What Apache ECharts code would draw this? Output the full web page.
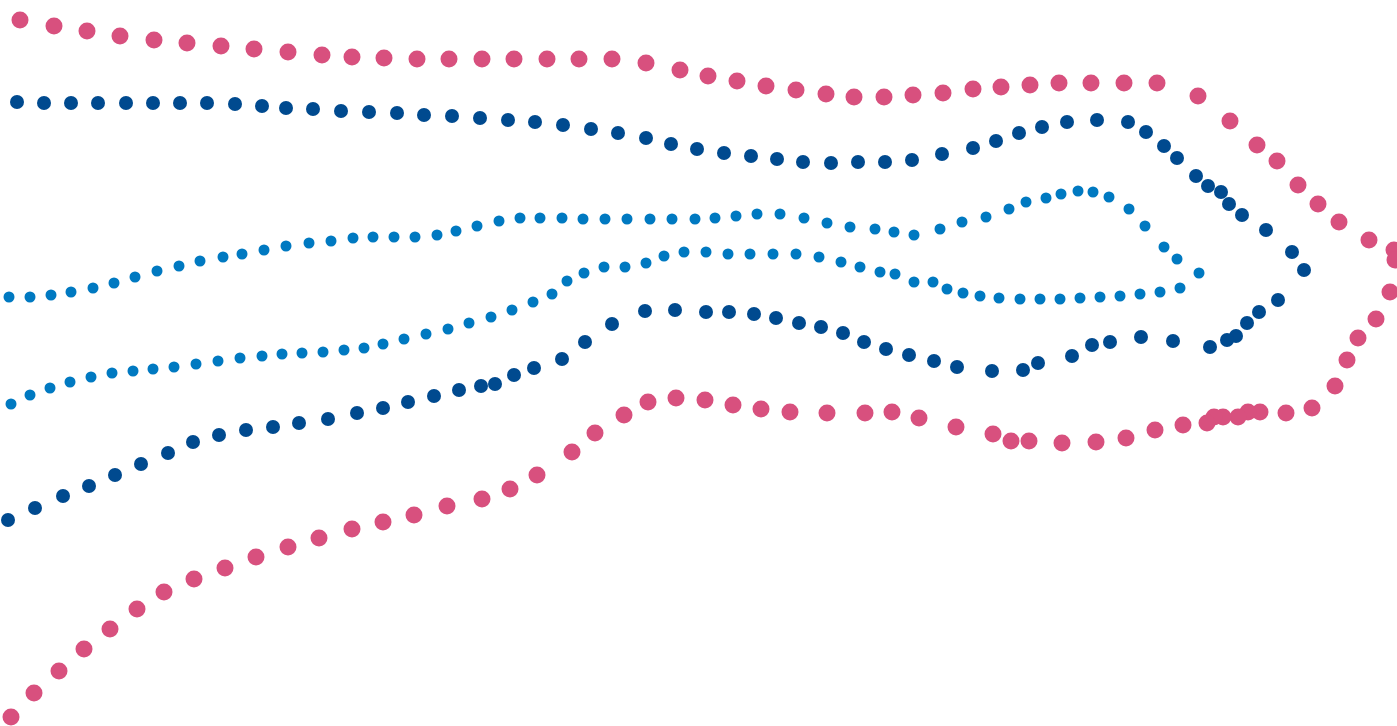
<!DOCTYPE html>
<html>
<head>
<meta charset="utf-8">
<script src="https://cdn.jsdelivr.net/npm/echarts@6/dist/echarts.min.js"></script>
<style>html,body{margin:0;padding:0;background:#fff;}#chart{width:1397px;height:726px;}</style>
</head>
<body>
<div id="chart"></div>
<script>
const pinkX = [20,54,87,120,154,187,221,254,288,322,352,384,417,449,482,514,547,579,612,646,680,708,737,766,796,826,854,884,913,943,973,1001,1030,1059,1091,1124,1157,1198,1230,1257,1277,1298,1318,1339,1369,1394,1395,1390,1376,1358,1347,1335,1312,1286,1260,1248,1238,1223,1214,1207,1183,1155,1126,1096,1062,1029,1011,993,956,919,892,865,827,790,761,733,705,676,648,624,595,572,537,510,482,447,414,383,352,319,288,256,225,194,164,137,110,84,59,34,11];
const pinkY = [20,26,31,36,40,43,46,49,52,55,57,58,59,59,59,59,59,59,59,63,70,76,81,86,90,94,97,97,95,93,89,87,85,83,83,83,83,96,121,145,161,185,204,222,240,250,260,292,319,338,360,386,408,413,412,412,417,417,417,423,425,430,438,442,443,441,441,434,427,418,412,413,413,412,409,405,400,398,402,415,433,452,475,489,499,506,515,522,529,538,547,557,568,579,592,609,629,649,671,693,717];

const navyX = [17,44,71,98,126,153,180,207,235,262,286,313,341,369,397,424,452,480,508,535,563,591,618,646,671,697,724,751,777,803,831,858,885,912,942,973,996,1019,1042,1067,1097,1128,1146,1164,1177,1196,1208,1221,1229,1242,1266,1292,1304,1278,1259,1247,1236,1227,1210,1173,1141,1110,1092,1072,1038,1023,992,957,934,909,886,864,843,821,799,776,754,729,706,675,645,612,585,562,534,514,495,481,459,434,408,383,357,328,299,273,246,219,193,168,141,115,89,63,35,8];
const navyY = [102,103,103,103,103,103,103,103,104,106,108,109,111,112,113,115,116,118,120,122,125,129,133,138,144,149,153,156,159,162,163,162,162,160,154,148,141,133,127,122,120,122,132,146,158,176,186,192,204,215,230,252,270,300,312,323,336,340,347,341,337,342,345,356,363,370,371,367,361,355,349,342,333,327,323,318,314,312,312,310,311,324,342,359,368,375,384,386,390,396,402,408,413,419,423,427,430,435,442,453,464,475,486,496,508,520];

const blueX = [9,30,51,71,93,114,135,157,179,200,223,242,264,286,309,331,353,373,394,415,437,456,477,499,520,540,562,583,605,627,650,672,695,715,736,757,780,804,827,850,875,894,914,940,962,986,1009,1026,1046,1061,1078,1093,1109,1129,1145,1164,1177,1199,1180,1160,1140,1120,1100,1080,1060,1040,1020,999,980,963,947,933,914,895,880,860,841,819,796,773,750,728,706,684,664,646,625,604,584,567,552,533,512,491,469,448,426,404,383,364,344,323,302,282,262,240,218,196,174,153,133,112,91,70,50,30,11];
const blueY = [297,297,295,292,288,283,277,271,266,261,257,254,250,246,243,241,238,237,237,237,235,231,226,221,218,218,218,219,219,219,219,219,219,218,216,214,214,218,223,227,229,232,235,229,222,217,209,202,198,194,191,192,197,209,226,247,259,273,288,292,294,296,297,298,299,299,299,298,296,293,289,282,282,274,272,267,262,257,254,254,254,254,252,252,256,263,267,267,273,281,294,302,310,317,323,329,334,339,344,348,350,352,353,354,356,358,361,364,367,369,371,373,377,382,388,395,404];

function pts(xs, ys) { return xs.map((x, i) => [x, ys[i]]); }

const chart = echarts.init(document.getElementById('chart'));
chart.setOption({
  animation: false,
  grid: { left: 0, right: 0, top: 0, bottom: 0 },
  xAxis: { type: 'value', min: 0, max: 1397, show: false },
  yAxis: { type: 'value', min: 0, max: 726, inverse: true, show: false },
  series: [
    { type: 'scatter', data: pts(pinkX, pinkY), symbolSize: 17, itemStyle: { color: '#d8507e', opacity: 1 } },
    { type: 'scatter', data: pts(navyX, navyY), symbolSize: 14, itemStyle: { color: '#004a8f', opacity: 1 } },
    { type: 'scatter', data: pts(blueX, blueY), symbolSize: 11, itemStyle: { color: '#0079c1', opacity: 1 } }
  ]
});
</script>
</body>
</html>
